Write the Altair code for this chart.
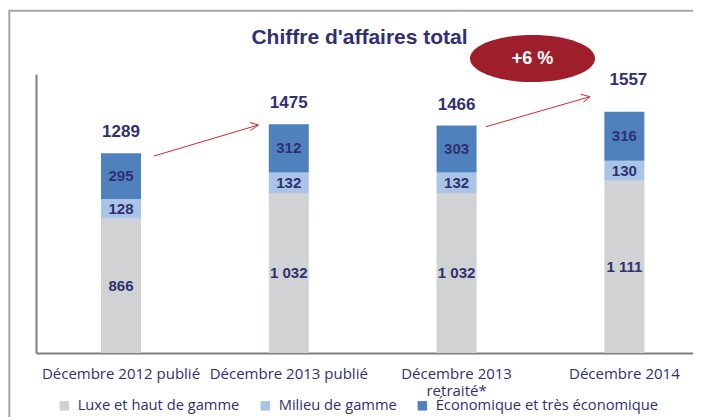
import altair as alt
import pandas as pd

# ---------------- data ----------------
categories = ["Décembre 2012 publié", "Décembre 2013 publié",
              "Décembre 2013 retraité*", "Décembre 2014"]
segments = ["Luxe et haut de gamme", "Milieu de gamme",
            "Économique et très économique"]
luxe = [866, 1032, 1032, 1111]
milieu = [128, 132, 132, 130]
eco = [295, 312, 303, 316]
totals = [1289, 1475, 1466, 1557]
colors = ["#d1d2d4", "#a9c4e6", "#4f81bd"]
title_text = "Chiffre d'affaires total"
growth_label = "+6 %"

NAVY = "#2f3171"
W, H = 657, 279
OX, OY = 36, 74  # plot origin on the page (8px margin + padding)

rows = []
for i, c in enumerate(categories):
    lo = 0
    for j, (s, vals) in enumerate(zip(segments, [luxe, milieu, eco])):
        v = vals[i]
        rows.append({"cat": c, "seg": s, "idx": j, "value": v,
                     "mid": lo + v / 2,
                     "lbl": f"{v:,}".replace(",", " ")})
        lo += v
seg_df = pd.DataFrame(rows)
tot_df = pd.DataFrame({"cat": categories, "total": totals})

xenc = alt.X("cat:N", sort=categories,
             scale=alt.Scale(paddingInner=0.7616, paddingOuter=0.3385, align=0.572),
             axis=alt.Axis(title=None, labelAngle=0, ticks=False, tickSize=0,
                           domainColor="#7f7f7f", domainWidth=2,
                           labelFont="Open Sans", labelFontSize=15, labelColor=NAVY,
                           labelPadding=13, labelLineHeight=17, labelLimit=300,
                           labelOverlap=False, labelFlush=False,
                           labelExpr="datum.label == 'Décembre 2013 retraité*' ? ['Décembre 2013', 'retraité*'] : datum.label"))
yscale = alt.Scale(domain=[0, 1800])
yaxis = alt.Axis(title=None, labels=False, ticks=False, grid=False,
                 domainColor="#7f7f7f", domainWidth=2)

one = alt.Data(values=[{}])

def P(x, y):
    return alt.value(x - OX), alt.value(y - OY)

# frame
fx, fy = P(9.3, 10.7)
frame = alt.Chart(one).mark_rect(fillOpacity=0, stroke="#a6a6a6", strokeWidth=2).encode(
    x=fx, y=fy, x2=alt.value(760), y2=alt.value(420))

bars = alt.Chart(seg_df).mark_bar().encode(
    x=xenc,
    y=alt.Y("value:Q", stack="zero", scale=yscale, axis=yaxis),
    color=alt.Color("seg:N", scale=alt.Scale(domain=segments, range=colors),
                    legend=alt.Legend(title=None, orient="none", legendX=21, legendY=324,
                                      direction="horizontal", symbolType="square",
                                      symbolSize=90, symbolStrokeWidth=0,
                                      labelFont="Open Sans", labelFontSize=14.7,
                                      labelColor=NAVY, labelOffset=6, columnPadding=18,
                                      labelLimit=400)),
    order=alt.Order("idx:Q", sort="ascending"),
)

seg_text = alt.Chart(seg_df).mark_text(font="Liberation Sans", fontWeight="bold",
                                       fontSize=15, color=NAVY, baseline="middle").encode(
    x=xenc, y=alt.Y("mid:Q", scale=yscale), text="lbl:N")

tot_a = alt.Chart(tot_df).transform_filter(
    alt.datum.cat != categories[-1]).mark_text(
    font="Liberation Sans", fontWeight="bold", fontSize=17, color=NAVY,
    baseline="alphabetic", dy=-16).encode(
    x=xenc, y=alt.Y("total:Q", scale=yscale), text="total:N")
tot_b = alt.Chart(tot_df).transform_filter(
    alt.datum.cat == categories[-1]).mark_text(
    font="Liberation Sans", fontWeight="bold", fontSize=17, color=NAVY,
    baseline="alphabetic", dy=-27, dx=4).encode(
    x=xenc, y=alt.Y("total:Q", scale=yscale), text="total:N")

# growth arrows (page coordinates of annotation strokes)
arrow_segments = [
    ((154, 156), (258.3, 125)), ((250, 122.5), (258.3, 125)), ((250.5, 130.5), (258.3, 125)),
    ((486, 126.7), (590, 96.7)), ((580.7, 94.3), (590, 96.7)), ((583.3, 102.3), (590, 96.7)),
]
arrows = []
for (a, b) in arrow_segments:
    x1, y1 = P(*a)
    x2, y2 = P(*b)
    arrows.append(alt.Chart(one).mark_rule(color="#d9262b", strokeWidth=1).encode(
        x=x1, y=y1, x2=x2, y2=y2))

ex, ey = P(532.5, 58.5)
ellipse = alt.Chart(one).mark_point(
    shape="M -1 0 A 1 0.376 0 1 1 1 0 A 1 0.376 0 1 1 -1 0 Z",
    size=125 ** 2, filled=True, color="#9e1f2b", opacity=1, strokeWidth=0).encode(x=ex, y=ey)
etx, ety = P(532.5, 59)
ellipse_text = alt.Chart(one).mark_text(
    text=growth_label, font="Liberation Sans", fontWeight="bold", fontSize=18,
    color="white", baseline="middle", align="center").encode(x=etx, y=ety)

tx, ty = P(359.5, 44)
title = alt.Chart(one).mark_text(
    text=title_text, font="Liberation Sans", fontWeight="bold", fontSize=21,
    color=NAVY, baseline="alphabetic", align="center").encode(x=tx, y=ty)

chart = alt.layer(frame, bars, seg_text, tot_a, tot_b, *arrows, ellipse, ellipse_text, title).properties(
    width=W, height=H,
    padding={"left": 28, "top": 66, "right": 0, "bottom": 64},
    autosize=alt.AutoSizeParams(type="none"),
).configure_view(stroke=None)

chart.save("out.html", embed_options={"renderer": "svg", "actions": False})
